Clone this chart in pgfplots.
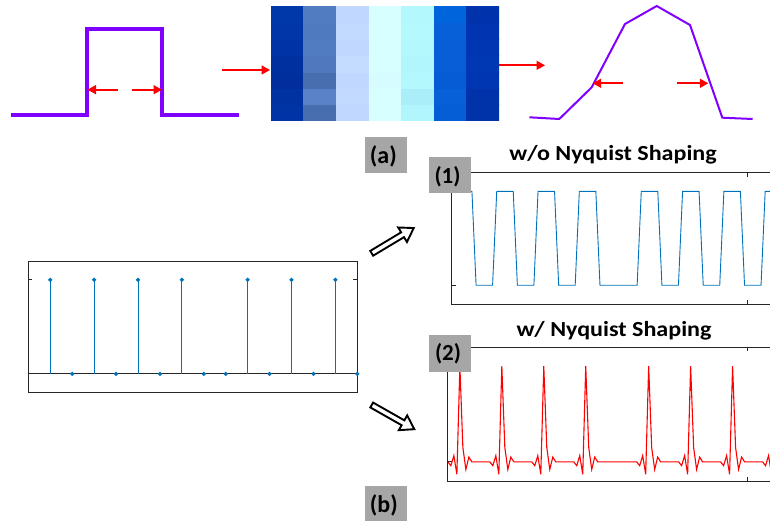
\documentclass[border=0pt]{standalone}
\usepackage{pgfplots}
\pgfplotsset{compat=1.18}
\usepackage{fontspec}
\setmainfont{Carlito}
\usetikzlibrary{arrows.meta}
\definecolor{mblue}{RGB}{0,114,189}
\definecolor{purp}{RGB}{128,0,255}
\definecolor{boxgray}{RGB}{166,166,166}
\definecolor{axgray}{RGB}{38,38,38}
\pgfplotsset{mat/.style={scale only axis, anchor=south west,
  axis line style={axgray, line width=0.8pt}, tick style={axgray, line width=0.8pt},
  tick align=inside, major tick length=4pt, xticklabels={}, yticklabels={}}}
\begin{document}
\begin{tikzpicture}
% ---------- heat map ----------
\begin{axis}[at={(271pt,400pt)}, anchor=south west, scale only axis, width=228pt, height=115pt,
  hide axis, xmin=-0.5, xmax=6.5, ymin=-0.5, ymax=6.5]
\addplot[matrix plot*, mesh/cols=7, mesh/color input=explicit, point meta=explicit symbolic] table[meta=c]{
x y c
0 0 rgb=0,0.204,0.651
1 0 rgb=0.282,0.431,0.690
2 0 rgb=0.753,0.847,1
3 0 rgb=0.847,1,1
4 0 rgb=0.690,0.965,0.988
5 0 rgb=0.024,0.369,0.839
6 0 rgb=0,0.196,0.667
0 1 rgb=0,0.196,0.635
1 1 rgb=0.353,0.510,0.784
2 1 rgb=0.761,0.855,1
3 1 rgb=0.847,1,1
4 1 rgb=0.667,0.933,0.980
5 1 rgb=0.031,0.376,0.847
6 1 rgb=0,0.196,0.667
0 2 rgb=0,0.180,0.612
1 2 rgb=0.282,0.431,0.690
2 2 rgb=0.753,0.847,1
3 2 rgb=0.839,0.988,1
4 2 rgb=0.698,0.973,0.988
5 2 rgb=0.024,0.361,0.831
6 2 rgb=0,0.212,0.698
0 3 rgb=0,0.188,0.627
1 3 rgb=0.314,0.471,0.745
2 3 rgb=0.769,0.863,1
3 3 rgb=0.847,1,1
4 3 rgb=0.690,0.965,0.988
5 3 rgb=0.031,0.369,0.839
6 3 rgb=0,0.220,0.706
0 4 rgb=0,0.204,0.651
1 4 rgb=0.322,0.486,0.761
2 4 rgb=0.753,0.847,1
3 4 rgb=0.847,1,1
4 4 rgb=0.698,0.973,0.988
5 4 rgb=0.031,0.369,0.839
6 4 rgb=0,0.212,0.698
0 5 rgb=0,0.212,0.659
1 5 rgb=0.314,0.478,0.753
2 5 rgb=0.761,0.855,1
3 5 rgb=0.847,1,1
4 5 rgb=0.706,0.980,0.988
5 5 rgb=0.031,0.376,0.847
6 5 rgb=0,0.204,0.690
0 6 rgb=0,0.220,0.667
1 6 rgb=0.322,0.486,0.761
2 6 rgb=0.753,0.847,1
3 6 rgb=0.847,1,1
4 6 rgb=0.698,0.973,0.988
5 6 rgb=0,0.392,0.863
6 6 rgb=0,0.196,0.675
};
\end{axis}
% ---------- stem plot ----------
\begin{axis}[mat, at={(28.3pt,128.3pt)}, width=329pt, height=131.7pt,
  xmin=0, xmax=15, ymin=-0.2, ymax=1.2, xtick=\empty, ytick={0,1}, clip=false]
\addplot[axgray, line width=0.8pt] coordinates {(0,0) (15,0)};
\addplot[mblue, line width=0.9pt, ycomb, mark=*, mark size=1.6pt, mark options={fill=mblue}] coordinates {
(1,1) (2,0) (3,1) (4,0) (5,1) (6,0) (7,1) (8,0) (9,0) (10,1) (11,0) (12,1) (13,0) (14,1) (15,0)};
\end{axis}
% ---------- w/o Nyquist ----------
\begin{axis}[mat, at={(451.7pt,217pt)}, width=352.7pt, height=131.3pt,
  xmin=-0.58, xmax=16.5, ymin=-0.2, ymax=1.2, xtick={13.72}, ytick={0,1}]
\addplot[mblue, line width=0.9pt] coordinates {
(-0.6,1) (0.4,1) (0.6,0) (1.4,0) (1.6,1) (2.4,1) (2.6,0) (3.4,0) (3.6,1) (4.4,1)
(4.6,0) (5.4,0) (5.6,1) (6.4,1) (6.6,0) (8.4,0) (8.6,1) (9.4,1) (9.6,0) (10.4,0)
(10.6,1) (11.4,1) (11.6,0) (12.4,0) (12.6,1) (13.4,1) (13.6,0) (14.4,0) (14.6,1) (15.4,1)
(15.6,0) (16.4,0) (16.6,1)};
\end{axis}
% ---------- w/ Nyquist ----------
\begin{axis}[mat, at={(447.7pt,40pt)}, width=358.3pt, height=134pt,
  xmin=-0.58, xmax=16.5, ymin=-0.2, ymax=1.2, xtick={13.72}, ytick={0,1}]
\addplot[red, line width=1.1pt] coordinates {
(-0.5714,0) (-0.4286,-0.04) (-0.2857,0.065) (-0.1429,-0.13) (0,1) (0.1429,0.15) (0.2857,-0.08) (0.4286,0.05) (0.5714,0)
(1.4286,0) (1.5714,-0.04) (1.7143,0.065) (1.8571,-0.13) (2,1) (2.1429,0.15) (2.2857,-0.08) (2.4286,0.05) (2.5714,0)
(3.4286,0) (3.5714,-0.04) (3.7143,0.065) (3.8571,-0.13) (4,1) (4.1429,0.15) (4.2857,-0.08) (4.4286,0.05) (4.5714,0)
(5.4286,0) (5.5714,-0.04) (5.7143,0.065) (5.8571,-0.13) (6,1) (6.1429,0.15) (6.2857,-0.08) (6.4286,0.05) (6.5714,0)
(8.4286,0) (8.5714,-0.04) (8.7143,0.065) (8.8571,-0.13) (9,1) (9.1429,0.15) (9.2857,-0.08) (9.4286,0.05) (9.5714,0)
(10.4286,0) (10.5714,-0.04) (10.7143,0.065) (10.8571,-0.13) (11,1) (11.1429,0.15) (11.2857,-0.08) (11.4286,0.05) (11.5714,0)
(12.4286,0) (12.5714,-0.04) (12.7143,0.065) (12.8571,-0.13) (13,1) (13.1429,0.15) (13.2857,-0.08) (13.4286,0.05) (13.5714,0)
(14.4286,0) (14.5714,-0.04) (14.7143,0.065) (14.8571,-0.13) (15,1) (15.1429,0.15) (15.2857,-0.08) (15.4286,0.05) (15.5714,0)
(16.5,0)};
\end{axis}
% ---------- overlay in image coordinates ----------
\begin{axis}[at={(0pt,0pt)}, anchor=south west, scale only axis, width=770pt, height=521pt,
  xmin=0, xmax=770, ymin=0, ymax=521, y dir=reverse, hide axis, clip=false]
\addplot[purp, line width=3.5pt] coordinates {(11,115) (87,115) (87,29) (162,29) (162,115) (239,115)};
\addplot[purp, line width=2pt] coordinates {(529.3,117.3) (559.3,119) (591.7,87.3) (625,24) (656.7,6) (690,25) (722.3,117.7) (752.7,119)};
\draw[color=red, line width=1.7pt, -{Triangle[length=8.5pt,width=9pt]}] (117.7,89.7) -- (87.5,89.7);
\draw[color=red, line width=1.7pt, -{Triangle[length=8.5pt,width=9pt]}] (131.7,89.7) -- (162,89.7);
\draw[color=red, line width=1.7pt, -{Triangle[length=8.5pt,width=9pt]}] (222.3,70) -- (270,70);
\draw[color=red, line width=1.7pt, -{Triangle[length=8.5pt,width=9pt]}] (499.3,65.3) -- (545,65.3);
\draw[color=red, line width=1.7pt, -{Triangle[length=8.5pt,width=9pt]}] (622.7,83.3) -- (592.7,83.3);
\draw[color=red, line width=1.7pt, -{Triangle[length=8.5pt,width=9pt]}] (676.7,83.3) -- (708.3,83.3);
\fill[boxgray] (365,136.7) rectangle (406.7,173.3);
\fill[boxgray] (365,486) rectangle (407,521);
\fill[boxgray] (429,157.3) rectangle (471,193.3);
\fill[boxgray] (429,335) rectangle (471,371.7);
\node[font=\fontsize{24}{28}\selectfont\bfseries] at (383.3,156.7) {(a)};
\node[font=\fontsize{24}{28}\selectfont\bfseries] at (383.8,505.7) {(b)};
\node[font=\fontsize{23}{28}\selectfont\bfseries] at (447.5,176.7) {(1)};
\node[font=\fontsize{23}{28}\selectfont\bfseries] at (448,353.3) {(2)};
\node[font=\fontsize{21.5}{26}\selectfont\bfseries, anchor=base, xscale=1.12] at (613,160.7) {w/o Nyquist Shaping};
\node[font=\fontsize{21.5}{26}\selectfont\bfseries, anchor=base, xscale=1.12] at (614,336) {w/ Nyquist Shaping};
\end{axis}
% ---------- hollow arrows ----------
\begin{scope}[shift={(371.7pt,267.7pt)}, rotate=31]
\draw[line width=1.9pt, fill=white, line join=miter] (0pt,-2.8pt) -- (36pt,-2.8pt) -- (36pt,-8.5pt) -- (49pt,0pt) -- (36pt,8.5pt) -- (36pt,2.8pt) -- (0pt,2.8pt) -- cycle;
\end{scope}
\begin{scope}[shift={(371.7pt,116pt)}, rotate=-29.6]
\draw[line width=1.9pt, fill=white, line join=miter] (0pt,-2.8pt) -- (36pt,-2.8pt) -- (36pt,-8.5pt) -- (49pt,0pt) -- (36pt,8.5pt) -- (36pt,2.8pt) -- (0pt,2.8pt) -- cycle;
\end{scope}
\pgfresetboundingbox
\path[use as bounding box] (0pt,0pt) rectangle (770pt,521pt);
\end{tikzpicture}
\end{document}
